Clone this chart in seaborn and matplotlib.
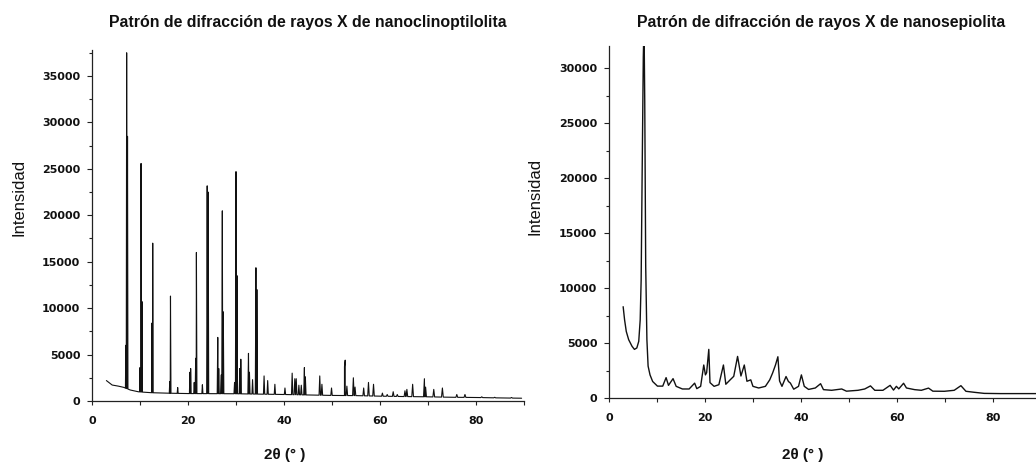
import numpy as np
import pandas as pd
import matplotlib
matplotlib.use("Agg")
import matplotlib.pyplot as plt
from matplotlib.ticker import MultipleLocator
import seaborn as sns

# ---- Nanoclinoptilolite: background level and diffraction peaks (2θ, counts) ----
clino_bg_x = [3.0, 4.2, 5.5, 6.6, 8.0, 9.7, 12.0, 15.0, 20.0, 25.0, 30.0, 35.0,
              40.0, 45.0, 50.0, 55.0, 60.0, 65.0, 70.0, 75.0, 80.0, 85.0, 89.5]
clino_bg_y = [2200, 1720, 1600, 1470, 1180, 990, 900, 850, 800, 790, 780, 740,
              700, 650, 600, 580, 520, 480, 450, 400, 380, 330, 300]

clino_peak_x = [7.05, 7.22, 7.40, 10.0, 10.22, 10.42, 12.5, 12.65, 16.2, 16.35,
                17.85, 20.4, 20.55, 21.3, 21.6, 21.75, 23.0, 24.0, 24.2, 26.2,
                26.4, 26.9, 27.15, 27.35, 29.7, 30.0, 30.2, 30.8, 31.0, 32.6,
                32.8, 33.45, 34.15, 34.35, 35.85, 36.6, 38.1, 40.2, 41.7, 42.25,
                42.55, 43.1, 43.6, 44.25, 44.45, 47.45, 47.9, 49.9, 52.6, 52.75,
                53.1, 54.45, 54.8, 56.6, 57.6, 58.65, 60.5, 61.5, 62.75, 63.6,
                65.2, 65.6, 66.8, 69.25, 69.5, 71.2, 73.0, 76.0, 77.7, 81.2,
                83.9, 87.4]
clino_peak_y = [6000, 37500, 28500, 3600, 25580, 10700, 8400, 17000, 2100, 11300,
                1450, 3100, 3500, 2000, 4600, 16000, 1750, 23170, 22500, 6850,
                3500, 2800, 20480, 9600, 2000, 24700, 13500, 3500, 4500, 5130,
                3100, 2300, 14350, 12000, 2700, 2200, 1800, 1400, 3000, 2400,
                2400, 1700, 1700, 3600, 2600, 2700, 1800, 1400, 3700, 4400,
                1600, 2500, 1500, 1400, 2000, 1800, 850, 700, 1000, 700,
                1100, 1250, 1800, 2400, 1500, 1250, 1400, 700, 700, 450,
                400, 380]

# ---- Nanosepiolite: measured trace (2θ, counts) ----
sepio_x = [2.95, 3.25, 3.6, 4.1, 4.8, 5.3, 5.8, 6.2, 6.5, 6.7, 6.9, 7.15, 7.3,
           7.45, 7.65, 7.9, 8.15, 8.55, 9.1, 10.1, 11.2, 11.9, 12.4, 13.35, 14.0,
           15.3, 16.7, 17.85, 18.3, 19.1, 19.75, 20.1, 20.35, 20.8, 21.05, 21.9,
           22.9, 23.85, 24.35, 25.3, 26.0, 26.8, 27.5, 28.2, 28.75, 29.55, 30.0,
           31.2, 32.6, 33.5, 34.1, 34.7, 35.2, 35.55, 36.05, 36.9, 37.4, 37.8,
           38.5, 39.5, 40.1, 40.7, 41.6, 43.0, 44.1, 44.7, 46.4, 48.5, 49.5,
           51.9, 53.3, 54.5, 55.4, 57.1, 58.6, 59.3, 59.9, 60.4, 61.4, 62.0,
           63.7, 65.1, 66.6, 67.5, 69.9, 71.95, 73.35, 74.4, 76.1, 78.2, 81.6,
           85.0, 89.0]
sepio_y = [8300, 7100, 6050, 5300, 4700, 4420, 4550, 5150, 7100, 10700, 20000,
           31000, 34000, 27000, 12000, 5300, 2900, 2100, 1500, 1080, 1080, 1850,
           1150, 1760, 1060, 820, 820, 1350, 850, 1060, 3000, 2100, 2300, 4420,
           1400, 1060, 1210, 3000, 1250, 1670, 1970, 3780, 2000, 3000, 1520,
           1650, 1060, 910, 1060, 1650, 2270, 3000, 3750, 1550, 1060, 1950, 1500,
           1360, 800, 1060, 2100, 1060, 780, 910, 1300, 760, 700, 820, 620, 700,
           820, 1100, 700, 700, 1150, 720, 1060, 830, 1340, 910, 760, 700, 900,
           620, 610, 700, 1120, 610, 520, 420, 400, 400, 400]

titles = ["Patrón de difracción de rayos X de nanoclinoptilolita",
          "Patrón de difracción de rayos X de nanosepiolita"]
y_label = "Intensidad"
x_label = "2θ (° )"


def stick_trace(bg_x, bg_y, peak_x, peak_y):
    """Place each narrow reflection on top of the background level."""
    pts = []
    px = np.asarray(peak_x)
    for x, y in zip(bg_x, bg_y):
        if np.all(np.abs(px - x) > 0.3):
            pts.append((x, y))
    for p, h in zip(peak_x, peak_y):
        w = 0.075 + 0.0015 * p
        for xx in (p - w, p + w):
            pts.append((xx, float(np.interp(xx, bg_x, bg_y))))
        pts.append((p, h))
    pts.sort()
    return pd.DataFrame(pts, columns=["two_theta", "intensity"])


clino = stick_trace(clino_bg_x, clino_bg_y, clino_peak_x, clino_peak_y)
sepio = pd.DataFrame({"two_theta": sepio_x, "intensity": sepio_y})

sns.set_theme(style="ticks")
plt.rcParams["font.family"] = ["DejaVu Sans"]

W, H = 1036, 465
fig = plt.figure(figsize=(W / 100, H / 100), dpi=100)
fig.patch.set_facecolor("white")

ax1 = fig.add_axes([92 / W, 1 - 401 / H, 432 / W, 351 / H])
ax2 = fig.add_axes([609 / W, 1 - 398 / H, 427 / W, 352 / H])

sns.lineplot(data=clino, x="two_theta", y="intensity", ax=ax1, color="#111111",
             linewidth=0.8, estimator=None, sort=False)
sns.lineplot(data=sepio, x="two_theta", y="intensity", ax=ax2, color="#111111",
             linewidth=1.0, estimator=None, sort=False)

ax1.set_xlim(0, 90)
ax1.set_ylim(0, 37800)
ax2.set_xlim(0, 89)
ax2.set_ylim(0, 32000)

for ax in (ax1, ax2):
    ax.set_facecolor("white")
    ax.set_xlabel("")
    ax.set_ylabel("")
    for side in ("top", "right"):
        ax.spines[side].set_visible(False)
    for side in ("left", "bottom"):
        ax.spines[side].set_color("#222222")
        ax.spines[side].set_linewidth(0.9)
    ax.xaxis.set_major_locator(MultipleLocator(20))
    ax.xaxis.set_minor_locator(MultipleLocator(10))
    ax.yaxis.set_major_locator(MultipleLocator(5000))
    ax.yaxis.set_minor_locator(MultipleLocator(2500))
    ax.tick_params(which="both", direction="out", color="#222222", width=0.8)
    ax.tick_params(axis="x", which="both", length=3, pad=8)
    ax.tick_params(axis="y", which="major", length=3.5, pad=5)
    ax.tick_params(axis="y", which="minor", length=2.5)
    for lab in ax.get_xticklabels() + ax.get_yticklabels():
        lab.set_fontweight("bold")
        lab.set_fontsize(8)
        lab.set_color("#111111")

title_font = dict(family="Liberation Sans", fontsize=11.4, fontweight="bold",
                  color="#111111", ha="center", va="center")
fig.text(308 / W, 1 - 22.5 / H, titles[0], **title_font)
fig.text(821 / W, 1 - 22.5 / H, titles[1], **title_font)

ylab_font = dict(family="Liberation Sans", fontsize=12, color="#111111",
                 rotation=90, ha="center", va="center")
fig.text(19 / W, 1 - 197 / H, y_label, **ylab_font)
fig.text(535 / W, 1 - 196 / H, y_label, **ylab_font)

xlab_font = dict(family="Liberation Sans", fontsize=11, fontweight="bold",
                 color="#111111", ha="center", va="center")
fig.text(285 / W, 1 - 455 / H, x_label, **xlab_font)
fig.text(803 / W, 1 - 455 / H, x_label, **xlab_font)

fig.savefig("out.png", dpi=100, facecolor="white")
